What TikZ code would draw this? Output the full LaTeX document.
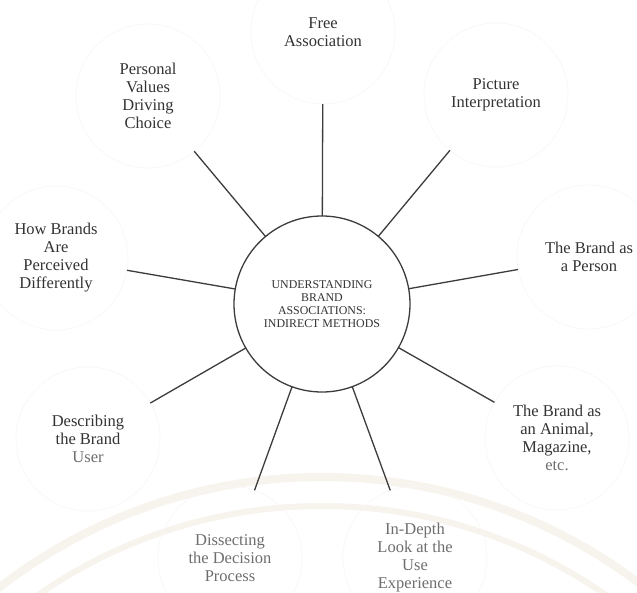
\documentclass[tikz,border=0pt]{standalone}
\usepackage{fontspec}
\setmainfont{Liberation Serif}
\definecolor{inkdark}{HTML}{333333}
\definecolor{inkfade}{HTML}{6E6E6E}
\definecolor{linegray}{HTML}{3C3C3C}
\definecolor{ringgray}{HTML}{F7F7F7}
\definecolor{sealtone}{HTML}{F7F4EE}
\tikzset{
  hub/.style={circle, draw=linegray, line width=1.3pt, minimum size=176pt,
    inner sep=0pt, outer sep=0pt, align=center, text=inkdark,
    font=\fontsize{11.9}{13}\selectfont},
  topic/.style={circle, draw=ringgray, line width=0.6pt, minimum size=144pt,
    inner sep=0pt, outer sep=0pt, align=center, text=inkdark,
    font=\fontsize{16.5}{18}\selectfont},
  spoke/.style={draw=linegray, line width=1.3pt}
}
\begin{document}
\begin{tikzpicture}[x=1pt,y=-1pt]
\useasboundingbox (0,0) rectangle (637,592);
\fill[white] (0,0) rectangle (637,592);
% faint seal in the lower background
\begin{scope}
  \clip (0,0) rectangle (637,592);
  \draw[sealtone, line width=8pt] (322,1003) circle[radius=526];
  \draw[sealtone, line width=6pt] (322,1003) circle[radius=497];
\end{scope}

\node[hub] (c) at (322,304)
  {UNDERSTANDING\\BRAND\\ASSOCIATIONS:\\INDIRECT METHODS};

\node[topic] (free) at (323,32) {Free\\Association};
\node[topic] (pict) at (496,95) {Picture\\Interpretation};
\node[topic] (pers) at (589,257) {The Brand as\\a Person};
\node[topic] (anim) at (557,438)
  {The Brand as\\an Animal,\\Magazine,\\\textcolor{inkfade}{etc.}};
\node[topic, text=inkfade] (depth) at (415,558)
  {In-Depth\\Look at the\\Use\\Experience};
\node[topic, text=inkfade] (dissect) at (230,558)
  {Dissecting\\the Decision\\Process};
\node[topic] (user) at (88,439)
  {Describing\\the Brand\\\textcolor{inkfade}{User}};
\node[topic] (diff) at (56,258)
  {How Brands\\Are\\Perceived\\Differently};
\node[topic] (values) at (148,96)
  {Personal\\Values\\Driving\\Choice};

\foreach \n in {free,pict,pers,anim,depth,dissect,user,diff,values}
  \draw[spoke] (c) -- (\n);
\end{tikzpicture}
\end{document}
